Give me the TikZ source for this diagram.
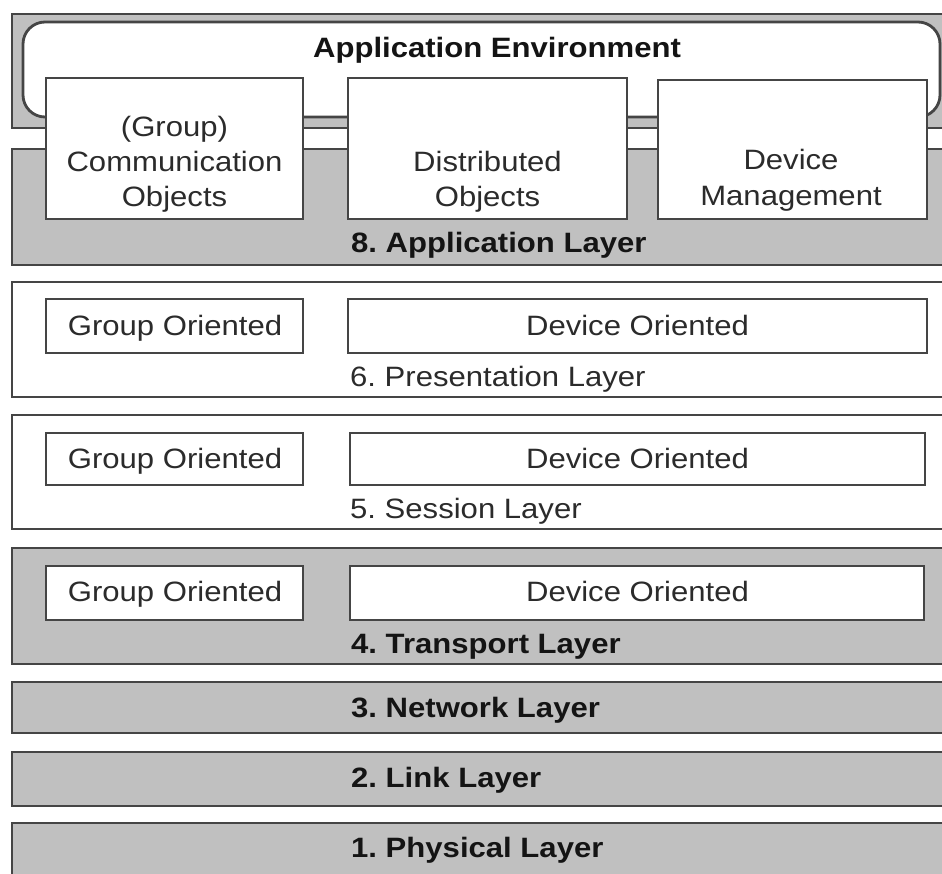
\documentclass[tikz,border=0pt]{standalone}
\usepackage{fontspec}
\setmainfont[FakeStretch=1.11]{Liberation Sans}
\definecolor{layergray}{HTML}{C0C0C0}
\definecolor{edge}{HTML}{454545}
\definecolor{ink}{HTML}{2B2B2B}
\frenchspacing
\begin{document}
\begin{tikzpicture}[x=1pt,y=-1pt,
  box/.style={draw=edge, line width=2.8pt, inner sep=0pt, outer sep=0pt, anchor=north west},
  graybox/.style={box, fill=layergray},
  whitebox/.style={box, fill=white},
  txt/.style={inner sep=0pt, anchor=base, text=ink, font=\fontsize{28pt}{35pt}\selectfont},
  ltxt/.style={txt, anchor=base west},
  btxt/.style={ltxt, text=black!92, font=\fontsize{28pt}{35pt}\selectfont\bfseries},
]
\path[use as bounding box] (0,0) rectangle (942,873);
\clip (0,0) rectangle (942,873);

% application environment
\node[graybox, minimum width=948pt, minimum height=114pt] (envouter) at (12,14) {};
\node[whitebox, rounded corners=22pt, minimum width=917pt, minimum height=95pt] (envbox) at (23,22) {};
\node[txt, text=black!92, font=\fontsize{28pt}{35pt}\selectfont\bfseries] (envlabel) at (497,57) {Application Environment};

% 8. application layer
\node[graybox, minimum width=948pt, minimum height=116pt] (app) at (12,149) {};
\node[whitebox, minimum width=257pt, minimum height=141pt] (comm) at (46,78) {};
\node[whitebox, minimum width=279pt, minimum height=141pt] (dist) at (348,78) {};
\node[whitebox, minimum width=269pt, minimum height=139pt] (devm) at (658,80) {};
\node[txt] (comm1) at (174.5,136) {(Group)};
\node[txt] (comm2) at (174.5,171) {Communication};
\node[txt] (comm3) at (174.5,206) {Objects};
\node[txt] (dist1) at (487.5,171) {Distributed};
\node[txt] (dist2) at (487.5,206) {Objects};
\node[txt] (devm1) at (791,169) {Device};
\node[txt] (devm2) at (791,205) {Management};
\node[btxt] (applabel) at (351,252) {8. Application Layer};

% 6. presentation layer
\node[whitebox, minimum width=948pt, minimum height=115pt] (pres) at (12,282) {};
\node[whitebox, minimum width=257pt, minimum height=54pt] (presg) at (46,299) {};
\node[whitebox, minimum width=579pt, minimum height=54pt] (presd) at (348,299) {};
\node[txt] (presgt) at (175,335) {Group Oriented};
\node[txt] (presdt) at (637.5,335) {Device Oriented};
\node[ltxt] (preslabel) at (350,386) {6. Presentation Layer};

% 5. session layer
\node[whitebox, minimum width=948pt, minimum height=114pt] (sess) at (12,415) {};
\node[whitebox, minimum width=257pt, minimum height=52pt] (sessg) at (46,433) {};
\node[whitebox, minimum width=575pt, minimum height=52pt] (sessd) at (350,433) {};
\node[txt] (sessgt) at (175,468) {Group Oriented};
\node[txt] (sessdt) at (637.5,468) {Device Oriented};
\node[ltxt] (sesslabel) at (350,518) {5. Session Layer};

% 4. transport layer
\node[graybox, minimum width=948pt, minimum height=116pt] (trans) at (12,548) {};
\node[whitebox, minimum width=257pt, minimum height=54pt] (transg) at (46,566) {};
\node[whitebox, minimum width=574pt, minimum height=54pt] (transd) at (350,566) {};
\node[txt] (transgt) at (175,601) {Group Oriented};
\node[txt] (transdt) at (637.5,601) {Device Oriented};
\node[btxt] (translabel) at (351,653) {4. Transport Layer};

% 3. network, 2. link, 1. physical
\node[graybox, minimum width=948pt, minimum height=51pt] (net) at (12,682) {};
\node[btxt] (netlabel) at (351,717) {3. Network Layer};
\node[graybox, minimum width=948pt, minimum height=54pt] (link) at (12,752) {};
\node[btxt] (linklabel) at (351,787) {2. Link Layer};
\node[graybox, minimum width=948pt, minimum height=80pt] (phys) at (12,823) {};
\node[btxt] (physlabel) at (351,857) {1. Physical Layer};
\end{tikzpicture}
\end{document}
